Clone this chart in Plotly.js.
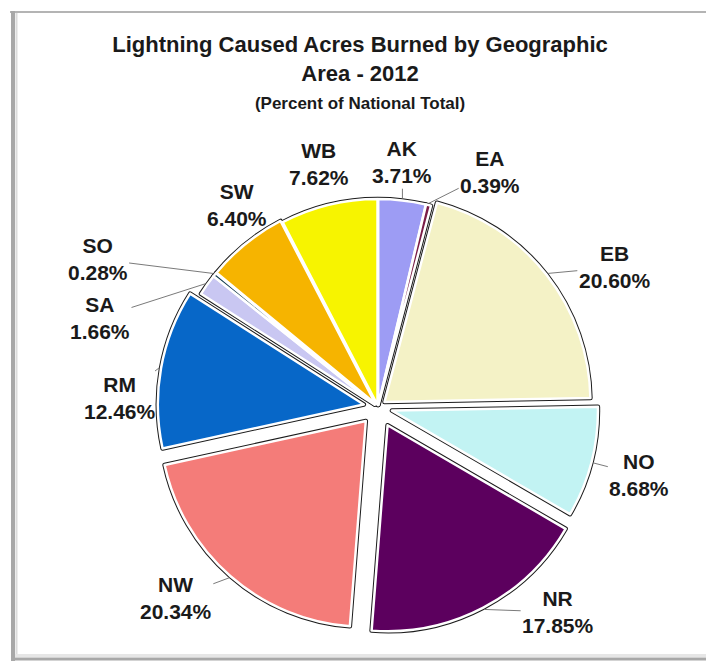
<!DOCTYPE html>
<html><head><meta charset="utf-8">
<script src="https://cdn.plot.ly/plotly-3.0.1.min.js"></script>
<style>html,body{margin:0;padding:0;background:#fff}#chart{width:706px;height:661px}</style>
</head><body><div id="chart"></div>
<script>
// ---- data ----
const areas = ['AK','EA','EB','NO','NR','NW','RM','SA','SO','SW','WB'];
const percents = [3.71, 0.39, 20.60, 8.68, 17.85, 20.34, 12.46, 1.66, 0.28, 6.40, 7.62];
const titleMain = 'Lightning Caused Acres Burned by Geographic<br>Area - 2012';
const titleSub = '(Percent of National Total)';

// ---- styles / layout config ----
const colors = ['#9d9cf4','#7a1c47','#f4f2c6','#c2f3f3','#5c005e','#f47c79','#0767c8','#c9c7f2','#10394a','#f6b400','#f7f400'];
const pulls = [0.01, 0.01, 0.04, 0.07, 0.10, 0.09, 0.07, 0.02, 0.02, 0.02, 0.01];
const labelAngleShift = [-1, 11.5, 7.6, 0, -13.6, 5.6, -8, -17.7, -11.2, 4, 0];
const labelDist = [246, 260, 275, 270, 273, 278, 258, 292, 317, 246, 250];
const showLeader = [1,1,1,1,1,1,1,1,1,0,0];

const W = 706, H = 661, CX = 378, CY = 407, R = 206;
const maxPull = Math.max(...pulls);
const half = R * (1 + maxPull);
const domain = {x: [(CX - half) / W, (CX + half) / W], y: [1 - (CY + half) / H, 1 - (CY - half) / H]};
const px2x = p => p / W, px2y = p => 1 - p / H;
const FONT = 'Liberation Sans, Arial, sans-serif';

const total = percents.reduce((a, b) => a + b, 0);
const dir = deg => [Math.sin(deg * Math.PI / 180), -Math.cos(deg * Math.PI / 180)];

const annotations = [];
let cum = 0;
percents.forEach((v, i) => {
  const mid = (cum + v / 2) / total * 360;
  cum += v;
  const d = dir(mid);
  const off = pulls[i] * R;
  const tip = [CX + d[0] * (R + off + 2), CY + d[1] * (R + off + 2)];
  const ld = dir(mid + labelAngleShift[i]);
  const lab = [CX + ld[0] * labelDist[i], CY + ld[1] * labelDist[i]];
  const text = areas[i] + '<br>' + v.toFixed(2) + '%';
  const base = {text: text, font: {family: FONT, size: 21, color: '#1a1a1a', weight: 'bold'},
    xref: 'paper', yref: 'paper', align: 'center'};
  if (showLeader[i]) {
    annotations.push(Object.assign(base, {x: px2x(tip[0]), y: px2y(tip[1]), showarrow: true,
      ax: lab[0] - tip[0], ay: lab[1] - tip[1], arrowhead: 0, arrowwidth: 1, arrowcolor: '#7a7a7a', standoff: 0}));
  } else {
    annotations.push(Object.assign(base, {x: px2x(lab[0]), y: px2y(lab[1]), showarrow: false,
      xanchor: 'center', yanchor: 'middle'}));
  }
});

const common = {type: 'pie', labels: areas, values: percents, sort: false, direction: 'clockwise',
  rotation: 0, pull: pulls, textinfo: 'none', hoverinfo: 'label+percent', domain: domain,
  showlegend: false};
const traces = [
  Object.assign({}, common, {marker: {colors: colors, line: {color: '#1c1c1c', width: 4.5}}}),
  Object.assign({}, common, {marker: {colors: colors, line: {color: '#ffffff', width: 2.5}}, hoverinfo: 'skip'})
];

const shapes = [
  {type: 'line', xref: 'paper', yref: 'paper', x0: px2x(10), x1: 1, y0: px2y(12), y1: px2y(12), line: {color: '#b4b4b4', width: 2}},
  {type: 'line', xref: 'paper', yref: 'paper', x0: px2x(13), x1: px2x(13), y0: px2y(11), y1: px2y(661), line: {color: '#a8a8a8', width: 4}},
  {type: 'line', xref: 'paper', yref: 'paper', x0: px2x(16.5), x1: px2x(16.5), y0: px2y(13), y1: px2y(656), line: {color: '#dcdcdc', width: 2}},
  {type: 'line', xref: 'paper', yref: 'paper', x0: px2x(11), x1: 1, y0: px2y(659), y1: px2y(659), line: {color: '#a8a8a8', width: 3}},
  {type: 'line', xref: 'paper', yref: 'paper', x0: px2x(15), x1: 1, y0: px2y(655.5), y1: px2y(655.5), line: {color: '#e6e6e6', width: 3}}
];

const layout = {
  width: W, height: H, margin: {l: 0, r: 0, t: 0, b: 0}, paper_bgcolor: '#ffffff',
  title: {text: '<b>' + titleMain + '</b><br><span style="font-size:17px"><b>' + titleSub + '</b></span>',
    font: {family: FONT, size: 22, color: '#1a1a1a'}, x: 0.51, xanchor: 'center', xref: 'paper',
    y: px2y(52), yanchor: 'top', yref: 'paper'},
  annotations: annotations, shapes: shapes
};
Plotly.newPlot('chart', traces, layout, {displayModeBar: false, staticPlot: true});
</script></body></html>
